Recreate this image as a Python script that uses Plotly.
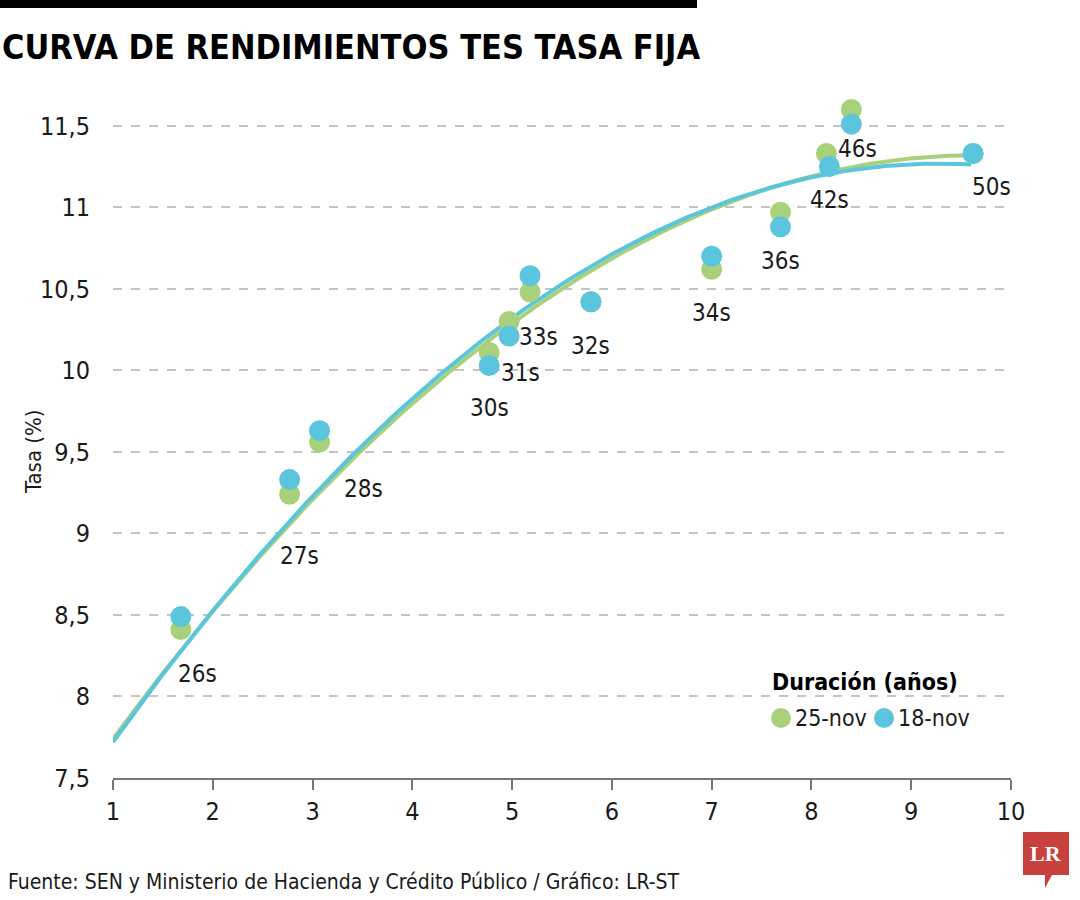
import numpy as np
import plotly.graph_objects as go

# ---------------- data ----------------
bonds = ["26s", "27s", "28s", "30s", "31s", "33s", "32s", "34s", "36s", "42s", "46s", "50s"]

dur_25nov = [1.68, 2.77, 3.07, 4.77, 4.97, 5.18, 5.79, 7.00, 7.69, 8.15, 8.40, 9.62]
rate_25nov = [8.41, 9.24, 9.56, 10.11, 10.30, 10.48, 10.42, 10.62, 10.97, 11.33, 11.60, 11.33]

dur_18nov = [1.68, 2.77, 3.07, 4.77, 4.97, 5.18, 5.79, 7.00, 7.69, 8.18, 8.40, 9.62]
rate_18nov = [8.49, 9.33, 9.63, 10.03, 10.21, 10.58, 10.42, 10.70, 10.88, 11.25, 11.51, 11.33]

# order-2 polynomial trend lines (c2, c1, c0)
trend_coef_25nov = [-0.0481, 0.926, 6.862]
trend_coef_18nov = [-0.0518, 0.961, 6.811]
trend_range = [1.0, 9.6]

y_ticks = [7.5, 8, 8.5, 9, 9.5, 10, 10.5, 11, 11.5]
y_tick_text = ["7,5", "8", "8,5", "9", "9,5", "10", "10,5", "11", "11,5"]
x_ticks = [1, 2, 3, 4, 5, 6, 7, 8, 9, 10]

# ---------------- styling ----------------
GREEN = "#a9d07a"
BLUE = "#5ac5dd"
FONT = "DejaVu Sans Condensed, Liberation Sans Narrow, sans-serif"
TXT = "#1a1a1a"

label_offsets = {
    "26s": (17, 57), "27s": (10, 76), "28s": (44, 58), "30s": (0, 43),
    "31s": (11, 37), "33s": (8, 61), "32s": (0, 44), "34s": (0, 57),
    "36s": (0, 34), "42s": (0, 33), "46s": (6, 25), "50s": (18, 34),
}

W, H = 1080, 900
L, R, T, B = 113, 69, 85, 122
pw, ph = W - L - R, H - T - B


def px2paper(xp, yp):
    return (xp - L) / pw, 1 - (yp - T) / ph


fig = go.Figure()

xx = np.linspace(trend_range[0], trend_range[1], 200)
fig.add_trace(go.Scatter(x=xx, y=np.polyval(trend_coef_25nov, xx), mode="lines",
                         line=dict(color=GREEN, width=4), showlegend=False, hoverinfo="skip"))
fig.add_trace(go.Scatter(x=xx, y=np.polyval(trend_coef_18nov, xx), mode="lines",
                         line=dict(color=BLUE, width=4), showlegend=False, hoverinfo="skip"))

fig.add_trace(go.Scatter(x=dur_25nov, y=rate_25nov, mode="markers", name="25-nov",
                         marker=dict(color=GREEN, size=21, line=dict(width=0)), showlegend=False))
fig.add_trace(go.Scatter(x=dur_18nov, y=rate_18nov, mode="markers", name="18-nov",
                         marker=dict(color=BLUE, size=21, line=dict(width=0)), showlegend=False))

annotations = []
for name, x, y in zip(bonds, dur_18nov, rate_18nov):
    dx, dy = label_offsets[name]
    annotations.append(dict(x=x, y=y, xref="x", yref="y", text=name, showarrow=False,
                            xshift=dx, yshift=-dy, font=dict(family=FONT, size=24, color=TXT)))


def paper_text(xp, yp, text, size, xanchor="left", color=TXT, family=FONT, angle=0):
    px, py = px2paper(xp, yp)
    return dict(x=px, y=py, xref="paper", yref="paper", text=text, showarrow=False,
                xanchor=xanchor, yanchor="middle", textangle=angle,
                font=dict(family=family, size=size, color=color))


annotations.append(paper_text(0, 47, "<b>CURVA DE RENDIMIENTOS TES TASA FIJA</b>", 34, color="#000000"))
annotations.append(paper_text(6, 882, "Fuente: SEN y Ministerio de Hacienda y Crédito Público / Gráfico: LR-ST", 21))
annotations.append(paper_text(1046, 854, "<b>LR</b>", 22, xanchor="center", color="white",
                              family="Liberation Serif, DejaVu Serif, serif"))
annotations.append(paper_text(33, 452, "Tasa (%)", 22, xanchor="center", angle=-90))

# legend (manual)
annotations.append(paper_text(770, 682, "<b>Duración (años)</b>", 23, color="#000000"))
annotations.append(paper_text(793, 718, "25-nov", 23))
annotations.append(paper_text(896, 718, "18-nov", 23))

shapes = []
x0, y0 = px2paper(0, 0)
x1, y1 = px2paper(697, 8)
shapes.append(dict(type="rect", xref="paper", yref="paper", x0=x0, y0=y1, x1=x1, y1=y0,
                   fillcolor="#000000", line=dict(width=0)))
pts = [(1023, 832), (1069, 832), (1069, 875), (1052, 875), (1045, 888), (1045, 875), (1023, 875)]
path = "M " + " L ".join(f"{px2paper(a, b)[0]:.5f},{px2paper(a, b)[1]:.5f}" for a, b in pts) + " Z"
shapes.append(dict(type="path", xref="paper", yref="paper", path=path,
                   fillcolor="#c8413d", line=dict(width=0)))
for (cx, cy), col in [((781, 718), GREEN), ((884, 718), BLUE)]:
    ax, ay = px2paper(cx, cy)
    shapes.append(dict(type="circle", xref="paper", yref="paper", xsizemode="pixel", ysizemode="pixel",
                       xanchor=ax, yanchor=ay, x0=-10, x1=10, y0=-10, y1=10,
                       fillcolor=col, line=dict(width=0)))

fig.update_layout(
    width=W, height=H,
    margin=dict(l=L, r=R, t=T, b=B, autoexpand=False),
    paper_bgcolor="white", plot_bgcolor="white",
    font=dict(family=FONT, color=TXT),
    showlegend=False,
    xaxis=dict(range=[1, 10], tickvals=x_ticks, showgrid=False, zeroline=False,
               showline=True, linecolor="#777777", linewidth=2,
               ticks="outside", ticklen=10, tickwidth=2, tickcolor="#777777",
               tickfont=dict(family=FONT, size=25, color=TXT)),
    yaxis=dict(range=[7.5, 11.75], tickvals=y_ticks, ticktext=y_tick_text,
               showgrid=True, gridcolor="#c4c4c4", griddash="dash", gridwidth=1.5,
               zeroline=False, showline=False, ticks="", ticklabelstandoff=22,
               tickfont=dict(family=FONT, size=25, color=TXT)),
    annotations=annotations,
    shapes=shapes,
)

fig.write_html("out.html", config={"displayModeBar": False},
               post_script="document.body.style.margin='0';")
